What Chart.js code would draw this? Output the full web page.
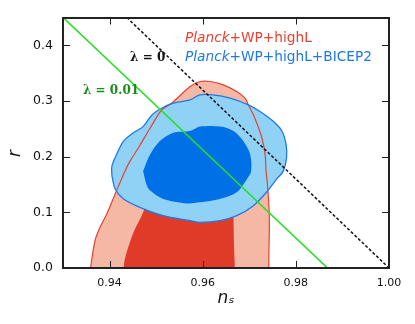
<!DOCTYPE html>
<html>
<head>
<meta charset="utf-8">
<script src="https://cdn.jsdelivr.net/npm/chart.js@4.4.1/dist/chart.umd.min.js"></script>
<style>
  html, body { margin: 0; padding: 0; background: #fff; }
  #wrap { width: 415px; height: 324px; }
</style>
</head>
<body>
<div id="wrap"><canvas id="chart" width="415" height="324"></canvas></div>
<script>
// ticks
const xTicks = [0.94, 0.96, 0.98, 1.00];
const yTicks = [0.0, 0.1, 0.2, 0.3, 0.4];

// Planck+WP+highL, 95% contour
const plOuterNs = [0.9359, 0.9369, 0.9380, 0.9394, 0.9412, 0.9433, 0.9444, 0.9462, 0.9487, 0.9512, 0.9533,
  0.9573, 0.9594, 0.9616, 0.9644, 0.9673, 0.9691, 0.9698, 0.9712, 0.9727, 0.9734, 0.9736, 0.9739, 0.9743, 0.9742, 0.9742];
const plOuterR = [0.000, 0.050, 0.074, 0.097, 0.133, 0.174, 0.192, 0.216, 0.251, 0.284, 0.296,
  0.326, 0.335, 0.335, 0.329, 0.317, 0.305, 0.293, 0.269, 0.234, 0.204, 0.174, 0.150, 0.094, 0.020, 0.000];

// Planck+WP+highL, 68% contour
const plInnerNs = [0.9430, 0.9433, 0.9444, 0.9455, 0.9469, 0.9487, 0.9519, 0.9583, 0.9637, 0.9663, 0.9666, 0.9667, 0.9669];
const plInnerR = [0.000, 0.017, 0.047, 0.071, 0.094, 0.130, 0.165, 0.190, 0.190, 0.155, 0.091, 0.047, 0.000];

// Planck+WP+highL+BICEP2, 95% contour
const bkOuterNs = [0.9405, 0.9405, 0.9415, 0.9430, 0.9451, 0.9472, 0.9491, 0.9512, 0.9537, 0.9573, 0.9594,
  0.9622, 0.9659, 0.9698, 0.9723, 0.9752, 0.9770, 0.9779, 0.9780, 0.9773, 0.9759, 0.9737, 0.9709, 0.9673,
  0.9637, 0.9594, 0.9573, 0.9515, 0.9465, 0.9430, 0.9412, 0.9405];
const bkOuterR = [0.166, 0.183, 0.204, 0.228, 0.243, 0.254, 0.275, 0.287, 0.296, 0.302, 0.311,
  0.311, 0.305, 0.293, 0.281, 0.263, 0.246, 0.222, 0.198, 0.174, 0.160, 0.136, 0.112, 0.094,
  0.085, 0.082, 0.085, 0.094, 0.109, 0.124, 0.142, 0.166];

// Planck+WP+highL+BICEP2, 68% contour
const bkInnerNs = [0.9472, 0.9476, 0.9487, 0.9508, 0.9537, 0.9573, 0.9594, 0.9637, 0.9666, 0.9687, 0.9702,
  0.9704, 0.9695, 0.9673, 0.9637, 0.9594, 0.9566, 0.9515, 0.9487, 0.9480, 0.9472];
const bkInnerR = [0.174, 0.183, 0.204, 0.228, 0.243, 0.246, 0.254, 0.254, 0.246, 0.228, 0.204,
  0.174, 0.160, 0.136, 0.124, 0.118, 0.116, 0.124, 0.139, 0.148, 0.174];

// lambda lines
const lam001Ns = [0.9300, 0.9868];
const lam001R = [0.45, 0.00];
const lam0Ns = [0.9437, 1.0000];
const lam0R = [0.45, 0.00];

const pts = (xs, ys) => xs.map((v, i) => ({ x: v, y: ys[i] }));

const colors = {
  redLight: '#f5b8a5',
  redDark: '#e03a28',
  redLine: '#e8412d',
  blueLight: '#8fd2f5',
  blueDark: '#0070e6',
  blueLine: '#1f78e8',
  green: '#22e022',
  greenText: '#1d8a1d'
};

function area(data, color) {
  return {
    data: data, showLine: true, fill: 'shape', backgroundColor: color,
    borderWidth: 0, pointRadius: 0, tension: 0.3
  };
}
function outline(data, color, width) {
  return {
    data: data, showLine: true, fill: false, borderColor: color,
    borderWidth: width, pointRadius: 0, tension: 0.3
  };
}

// bottom -> top
const layers = [
  area(pts(plOuterNs, plOuterR), colors.redLight),
  area(pts(plInnerNs, plInnerR), colors.redDark),
  area(pts(bkOuterNs, bkOuterR), colors.blueLight),
  area(pts(bkInnerNs, bkInnerR), colors.blueDark),
  outline(pts(plOuterNs, plOuterR), colors.redLine, 1.2),
  outline(pts(bkOuterNs, bkOuterR), colors.blueLine, 1.3),
  { data: pts(lam001Ns, lam001R), showLine: true, fill: false, borderColor: colors.green,
    borderWidth: 1.6, pointRadius: 0, tension: 0 },
  { data: pts(lam0Ns, lam0R), showLine: true, fill: false, borderColor: '#111',
    borderWidth: 1.5, borderDash: [3, 2], pointRadius: 0, tension: 0 }
];
layers.forEach((d, i) => { d.order = layers.length - i; });

// texts inside the plot + inward tick marks
const overlay = {
  id: 'overlay',
  afterDatasetsDraw(chart) {
    const { ctx, chartArea: a, scales: { x, y } } = chart;
    ctx.save();

    // ticks pointing into the plot, on all four sides
    ctx.strokeStyle = '#222';
    ctx.lineWidth = 1;
    ctx.beginPath();
    xTicks.forEach(v => {
      const px = Math.round(x.getPixelForValue(v)) + 0.5;
      ctx.moveTo(px, a.bottom); ctx.lineTo(px, a.bottom - 7);
      ctx.moveTo(px, a.top); ctx.lineTo(px, a.top + 7);
    });
    yTicks.forEach(v => {
      const py = Math.round(y.getPixelForValue(v)) + 0.5;
      ctx.moveTo(a.left, py); ctx.lineTo(a.left + 7, py);
      ctx.moveTo(a.right, py); ctx.lineTo(a.right - 7, py);
    });
    ctx.stroke();

    ctx.textBaseline = 'alphabetic';
    ctx.textAlign = 'left';

    function legendLine(ns, r, tail, color) {
      let px = x.getPixelForValue(ns);
      const py = y.getPixelForValue(r);
      ctx.fillStyle = color;
      ctx.font = 'italic 13.7px "DejaVu Sans"';
      ctx.fillText('Planck', px, py);
      px += ctx.measureText('Planck').width;
      ctx.font = '13.7px "DejaVu Sans"';
      ctx.fillText(tail, px, py);
    }
    legendLine(0.9562, 0.4057, '+WP+highL', colors.redLine);
    legendLine(0.9562, 0.3714, '+WP+highL+BICEP2', colors.blueLine);

    ctx.font = 'bold 12px "DejaVu Serif"';
    ctx.fillStyle = '#111';
    ctx.fillText('λ = 0', x.getPixelForValue(0.9444), y.getPixelForValue(0.372));
    ctx.fillStyle = colors.greenText;
    ctx.fillText('λ = 0.01', x.getPixelForValue(0.9343), y.getPixelForValue(0.313));
    ctx.restore();
  }
};

const frame = { color: '#222', width: 2, z: 1 };
const noGrid = { display: false, drawTicks: false };

new Chart(document.getElementById('chart'), {
  type: 'scatter',
  data: { datasets: layers },
  options: {
    responsive: false,
    animation: false,
    layout: { padding: 0 },
    plugins: { legend: { display: false }, tooltip: { enabled: false } },
    scales: {
      x: {
        type: 'linear', position: 'bottom', min: 0.93, max: 1.0,
        afterBuildTicks: s => { s.ticks = xTicks.map(v => ({ value: v })); },
        afterFit: s => { s.height = 56; },
        border: frame, grid: noGrid,
        ticks: { font: { family: 'DejaVu Sans', size: 11 }, color: '#111', padding: 9,
          callback: v => Number(v).toFixed(2) },
        title: { display: true, text: 'nₛ', color: '#111', padding: { top: 0, bottom: 15 },
          font: { family: 'DejaVu Sans', size: 17, style: 'italic' } }
      },
      x2: {
        type: 'linear', position: 'top', min: 0.93, max: 1.0,
        afterFit: s => { s.height = 15; },
        border: frame, grid: noGrid, ticks: { display: false }
      },
      y: {
        type: 'linear', position: 'left', min: 0, max: 0.45,
        afterBuildTicks: s => { s.ticks = yTicks.map(v => ({ value: v })); },
        afterFit: s => { s.width = 63; },
        border: frame, grid: noGrid,
        ticks: { font: { family: 'DejaVu Sans', size: 12.5 }, color: '#111', padding: 10,
          callback: v => Number(v).toFixed(1) },
        title: { display: true, text: 'r    ', color: '#111', padding: { top: 5, bottom: 0 },
          font: { family: 'DejaVu Sans', size: 17, style: 'italic' } }
      },
      y2: {
        type: 'linear', position: 'right', min: 0, max: 0.45,
        afterFit: s => { s.width = 26; },
        border: frame, grid: noGrid, ticks: { display: false }
      }
    }
  },
  plugins: [overlay]
});
</script>
</body>
</html>
